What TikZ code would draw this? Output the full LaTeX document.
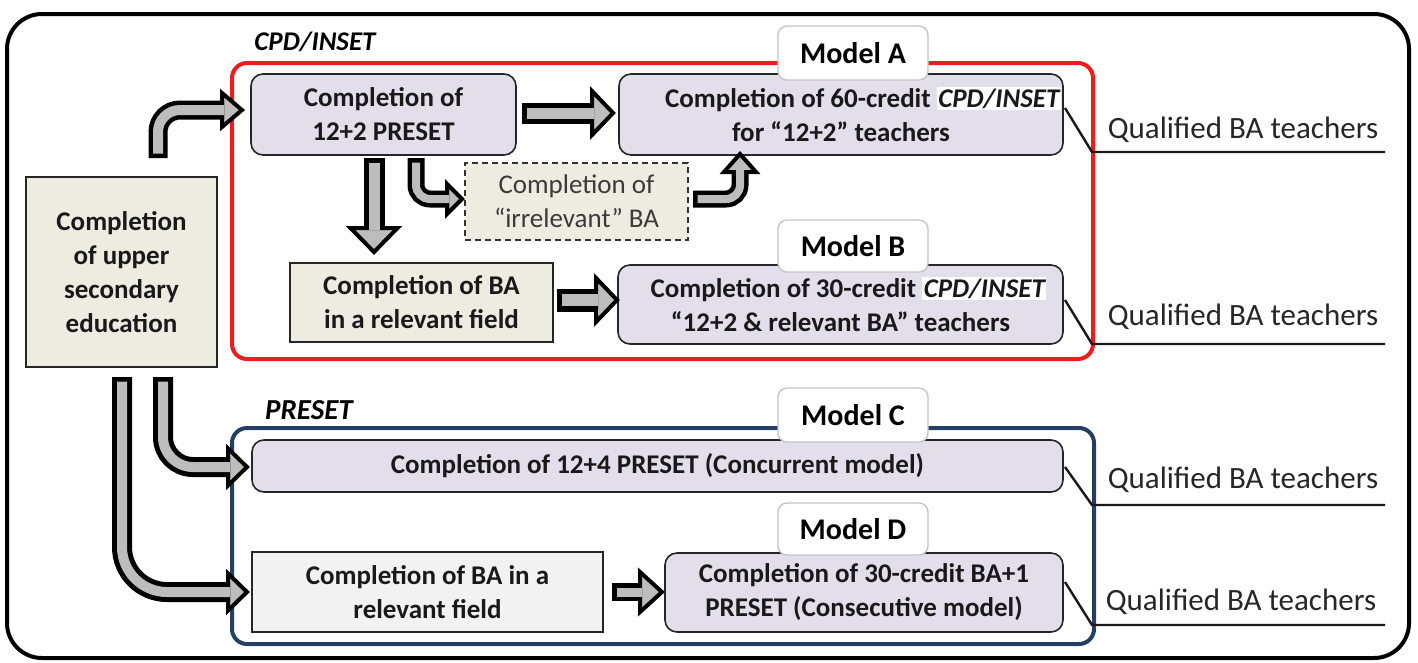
\documentclass[tikz,border=0pt]{standalone}
\usepackage{fontspec}
\setmainfont{Carlito}
\usetikzlibrary{calc}
\definecolor{lav}{HTML}{E2DFEB}
\definecolor{beige}{HTML}{EEECE1}
\definecolor{lgray}{HTML}{F2F2F2}
\definecolor{agray}{HTML}{BDBDBD}
\definecolor{frred}{HTML}{EE1C1C}
\definecolor{frblue}{HTML}{243F60}
\definecolor{mgray}{HTML}{C4C4C4}
\definecolor{txtgray}{HTML}{3A3A3A}
\newcommand\hlt[1]{{\setlength{\fboxsep}{1.5pt}\colorbox{white}{\itshape #1}}}
\begin{document}
\begin{tikzpicture}[x=1pt,y=-1pt,
  every node/.style={inner sep=0pt, outer sep=0pt},
  txt/.style={font=\fontsize{27}{34}\selectfont\bfseries, align=center, text=black!90},
  lavbox/.style={txt, draw=black!85, line width=1.6pt, fill=lav, rounded corners=12pt},
  sqbox/.style={txt, draw=black!85, line width=1.6pt},
  modelbox/.style={draw=mgray, line width=1.4pt, fill=white, rounded corners=9pt,
    font=\fontsize{30}{34}\selectfont\bfseries, minimum width=150pt, minimum height=54pt},
  grplbl/.style={font=\fontsize{27}{32}\selectfont\bfseries\itshape},
  qtxt/.style={font=\fontsize{31}{34}\selectfont, text=black!85, anchor=base},
  qline/.style={line width=2.4pt, black!90},
  head/.style={fill=agray, draw=black, line width=4pt, line join=miter},
  outl/.style={line width=#1, black},
  inl/.style={line width=#1, agray},
]
\useasboundingbox (0,0) rectangle (1418,662);
% frames
\draw[line width=4pt, rounded corners=35pt] (7,14) rectangle (1409,658);
\draw[line width=4pt, frred, rounded corners=15pt] (232,63) rectangle (1093,359);
\draw[line width=4pt, frblue, rounded corners=15pt] (232,428) rectangle (1094,644);
\node[grplbl] (cpd) at (315,42) {CPD/INSET};
\node[grplbl, font=\fontsize{29}{32}\selectfont\bfseries\itshape] (preset) at (309,410) {PRESET};

% boxes
\node[sqbox, fill=beige, minimum width=191pt, minimum height=190pt] (up) at (121.5,272)
  {Completion\\of upper\\secondary\\education};
\node[lavbox, minimum width=265pt, minimum height=81pt] (b1) at (383.5,114.5)
  {Completion of\\12+2 PRESET};
\node[lavbox, minimum width=444pt, minimum height=81pt] (bA) at (841,114.5)
  {\hspace*{44pt}Completion of 60-credit \hlt{CPD/INSET}\\for “12+2” teachers};
\node[txt, font=\fontsize{27}{34}\selectfont, text=txtgray, draw=black!80, dashed, dash pattern=on 6pt off 4pt,
  line width=1.6pt, fill=beige, minimum width=223pt, minimum height=77pt] (irr) at (576.5,201.5)
  {Completion of\\“irrelevant” BA};
\node[sqbox, fill=beige, minimum width=263pt, minimum height=79pt] (relA) at (421.5,302.5)
  {Completion of BA\\in a relevant field};
\node[lavbox, minimum width=445pt, minimum height=79pt] (bB) at (840.5,304.5)
  {\hspace*{16pt}Completion of 30-credit \hlt{CPD/INSET}\\“12+2 \& relevant BA” teachers};
\node[lavbox, minimum width=811pt, minimum height=52pt] (bC) at (657.5,466)
  {Completion of 12+4 PRESET (Concurrent model)};
\node[sqbox, fill=lgray, minimum width=351pt, minimum height=80pt] (relD) at (427.5,592)
  {Completion of BA in a\\relevant field};
\node[lavbox, minimum width=398pt, minimum height=79pt] (bD) at (864,592.5)
  {Completion of 30-credit BA+1\\PRESET (Consecutive model)};

% model labels
\node[modelbox] (mA) at (853,53) {Model A};
\node[modelbox, minimum height=52pt] (mB) at (853,246) {Model B};
\node[modelbox] (mC) at (853,415) {Model C};
\node[modelbox, minimum height=52pt] (mD) at (853,529) {Model D};

% qualified outputs
\coordinate (kA) at (1092,152); \coordinate (eA) at (1385,152);
\coordinate (kB) at (1092,344); \coordinate (eB) at (1385,344);
\coordinate (kC) at (1092,505); \coordinate (eC) at (1385,505);
\coordinate (kD) at (1092,625); \coordinate (eD) at (1385,625);
\draw[qline] ($(bA.east)+(2,-6.5)$) -- (kA) -- (eA);
\draw[qline] ($(bB.east)+(2,-4.5)$) -- (kB) -- (eB);
\draw[qline] ($(bC.east)+(2,1)$) -- (kC) -- (eC);
\draw[qline] ($(bD.east)+(2,-10.5)$) -- (kD) -- (eD);
\node[qtxt] (qA) at (1243,138) {Qualified BA teachers};
\node[qtxt] (qB) at (1243,325) {Qualified BA teachers};
\node[qtxt] (qC) at (1243,488) {Qualified BA teachers};
\node[qtxt] (qD) at (1241,610) {Qualified BA teachers};

% arrow 1: up -> b1
\coordinate (a1s) at ($(up.north)+(36.5,-19)$);
\coordinate (a1t) at ($(b1.west)+(-9,-4.5)$);
\filldraw[head] (a1t) -- ++(-20,-17) -- ++(0,34) -- cycle;
\draw[outl=19pt, rounded corners=22pt] (a1s) |- ($(a1t)+(-18,0)$);
\draw[inl=10pt, rounded corners=22pt] ($(a1s)+(0,-4.5)$) |- ($(a1t)+(-18,0)$);

% arrow 2: b1 -> bA
\coordinate (a2s) at ($(b1.east)+(6,-1.5)$);
\coordinate (a2t) at ($(bA.west)+(-6,-1.5)$);
\filldraw[head] (a2t) -- ++(-21,-22) -- ++(0,44) -- cycle;
\draw[outl=21pt] (a2s) -- ($(a2t)+(-19,0)$);
\draw[inl=11pt] ($(a2s)+(4.5,0)$) -- ($(a2t)+(-19,0)$);

% arrow 3: b1 -> relA
\coordinate (a3s) at ($(b1.south)+(-9.5,3)$);
\coordinate (a3t) at ($(relA.north)+(-47.5,-11)$);
\filldraw[head] (a3t) -- ++(-23.5,-24) -- ++(47,0) -- cycle;
\draw[outl=21pt] (a3s) -- ($(a3t)+(0,-22)$);
\draw[inl=11pt] ($(a3s)+(0,4.5)$) -- ($(a3t)+(0,-22)$);

% arrow 4: b1 -> irr
\coordinate (a4s) at ($(b1.south)+(32.5,3)$);
\coordinate (a4t) at ($(irr.west)+(-3,-2.5)$);
\filldraw[head] (a4t) -- ++(-15,-15) -- ++(0,30) -- cycle;
\draw[outl=17pt, rounded corners=14pt] (a4s) |- ($(a4t)+(-13,0)$);
\draw[inl=8pt, rounded corners=14pt] ($(a4s)+(0,4.5)$) |- ($(a4t)+(-13,0)$);

% arrow 5: irr -> bA
\coordinate (a5s) at ($(irr.east)+(5,-2.5)$);
\coordinate (a5t) at ($(bA.south)+(-101,-1)$);
\filldraw[head] (a5t) -- ++(-16,18) -- ++(32,0) -- cycle;
\draw[outl=17pt, rounded corners=14pt] (a5s) -| ($(a5t)+(0,16)$);
\draw[inl=8pt, rounded corners=14pt] ($(a5s)+(4.5,0)$) -| ($(a5t)+(0,16)$);

% arrow 6: relA -> bB
\coordinate (a6s) at ($(relA.east)+(4,-2.5)$);
\coordinate (a6t) at ($(bB.west)+(-1,-4.5)$);
\filldraw[head] (a6t) -- ++(-21,-22) -- ++(0,44) -- cycle;
\draw[outl=23pt] (a6s) -- ($(a6t)+(-19,0)$);
\draw[inl=12pt] ($(a6s)+(4.5,0)$) -- ($(a6t)+(-19,0)$);

% arrow 7: up -> bC
\coordinate (a7s) at ($(up.south)+(41.5,10)$);
\coordinate (a7t) at ($(bC.west)+(-5,1)$);
\filldraw[head] (a7t) -- ++(-19,-18.5) -- ++(0,37) -- cycle;
\draw[outl=20pt, rounded corners=30pt] (a7s) |- ($(a7t)+(-17,0)$);
\draw[inl=10pt, rounded corners=30pt] ($(a7s)+(0,4.5)$) |- ($(a7t)+(-17,0)$);

% arrow 8: up -> relD
\coordinate (a8s) at ($(up.south)+(0.5,10)$);
\coordinate (a8t) at ($(relD.west)+(-5,0)$);
\filldraw[head] (a8t) -- ++(-19,-18.5) -- ++(0,37) -- cycle;
\draw[outl=20pt, rounded corners=45pt] (a8s) |- ($(a8t)+(-17,0)$);
\draw[inl=10pt, rounded corners=45pt] ($(a8s)+(0,4.5)$) |- ($(a8t)+(-17,0)$);

% arrow 9: relD -> bD
\coordinate (a9s) at ($(relD.east)+(9,0)$);
\coordinate (a9t) at ($(bD.west)+(-3,-0.5)$);
\filldraw[head] (a9t) -- ++(-22,-20) -- ++(0,40) -- cycle;
\draw[outl=18pt] (a9s) -- ($(a9t)+(-20,0)$);
\draw[inl=9pt] ($(a9s)+(4.5,0)$) -- ($(a9t)+(-20,0)$);
\end{tikzpicture}
\end{document}
